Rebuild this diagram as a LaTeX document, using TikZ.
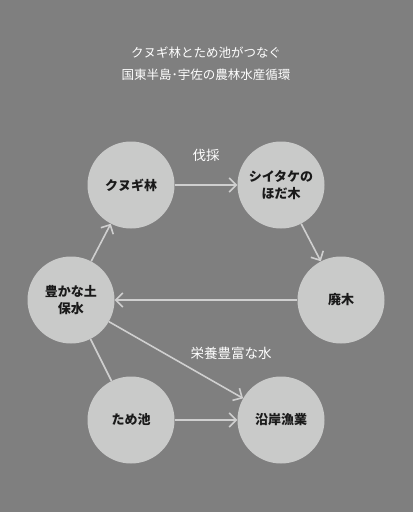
\documentclass[tikz,border=0pt]{standalone}
\usepackage{fontspec}
\setmainfont{Noto Sans CJK JP}
\usetikzlibrary{arrows.meta,positioning}
\definecolor{bggray}{HTML}{7F7F7F}
\definecolor{circgray}{HTML}{C9CAC9}
\definecolor{linegray}{HTML}{CFCFCF}
\definecolor{inkgray}{HTML}{1A1A1A}

\begin{document}
\begin{tikzpicture}[x=1pt, y=-1pt,
        every node/.style={align=center, font=\fontsize{12.5}{17}\selectfont},
        stage/.style={circle, fill=circgray, text=inkgray, minimum size=87pt, inner sep=0pt, font=\fontsize{13}{17}\selectfont\bfseries},
        flow/.style={draw=linegray, line width=1.6pt, -{Straight Barb[length=7pt,width=14pt]}},
        link/.style={draw=linegray, line width=1.6pt},
        caption/.style={text=white, font=\fontsize{12.5}{22}\selectfont},
        edgelabel/.style={text=white, font=\fontsize{13.5}{16}\selectfont}
    ]
        \fill[bggray] (0,0) rectangle (413,512);
        \node[caption] (title) at (206,64) {クヌギ林とため池がつなぐ\\国東半島･宇佐の農林水産循環};

        \node[stage] (kunugi) at (131,185) {クヌギ林};
        \node[stage] (shiitake) at (281,185) {シイタケの\\ほだ木};
        \node[stage] (haiboku) at (341,300) {廃木};
        \node[stage] (tsuchi) at (71,300) {豊かな土\\保水};
        \node[stage] (tameike) at (131,420) {ため池};
        \node[stage] (gyogyo) at (281,420) {沿岸漁業};

        \node[edgelabel] (bassai) at (206,155) {伐採};
        \node[edgelabel] (eiyou) at (231,353) {栄養豊富な水};

        \draw[flow] (kunugi) -- (shiitake);
        \draw[flow] (shiitake) -- (haiboku);
        \draw[flow] (haiboku) -- (tsuchi);
        \draw[flow] (tsuchi) -- (kunugi);
        \draw[flow] (tsuchi) -- (gyogyo);
        \draw[link] (tsuchi) -- (tameike);
        \draw[flow] (tameike) -- (gyogyo);
    \end{tikzpicture}
\end{document}
